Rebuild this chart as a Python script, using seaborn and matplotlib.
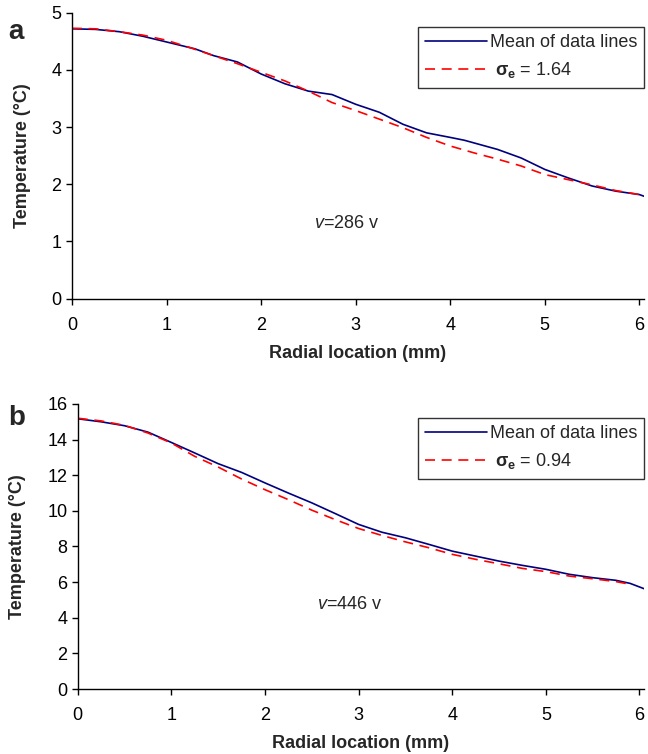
import numpy as np
import pandas as pd
import matplotlib
matplotlib.use('Agg')
import matplotlib.pyplot as plt
import seaborn as sns

# ── Data ───────────────────────────────────────────────────────────────────
# panel a (v = 286 v)
a_x_mean = [0, 0.25, 0.5, 0.75, 1.0, 1.3, 1.5, 1.75, 2.0, 2.25, 2.5, 2.75, 3.0,
            3.25, 3.5, 3.75, 4.0, 4.15, 4.5, 4.75, 5.0, 5.25, 5.5, 5.75, 6.0, 6.05]
a_y_mean = [4.72, 4.71, 4.67, 4.59, 4.49, 4.37, 4.25, 4.14, 3.93, 3.76, 3.63, 3.57, 3.40,
            3.26, 3.05, 2.90, 2.82, 2.77, 2.61, 2.46, 2.26, 2.11, 1.97, 1.88, 1.82, 1.79]
a_x_fit = [0, 0.25, 0.5, 0.75, 1.0, 1.25, 1.5, 1.75, 2.0, 2.25, 2.5, 2.75, 3.0,
           3.25, 3.5, 3.75, 4.0, 4.25, 4.5, 4.75, 5.0, 5.25, 5.5, 5.75, 6.0]
a_y_fit = [4.73, 4.72, 4.67, 4.61, 4.52, 4.39, 4.25, 4.11, 3.96, 3.81, 3.63, 3.43, 3.29,
           3.14, 2.99, 2.82, 2.67, 2.55, 2.44, 2.32, 2.17, 2.08, 1.99, 1.89, 1.82]

# panel b (v = 446 v)
b_x_mean = [0, 0.25, 0.5, 0.75, 1.0, 1.25, 1.5, 1.75, 2.0, 2.25, 2.5, 2.75, 3.0,
            3.25, 3.5, 3.75, 4.0, 4.25, 4.5, 4.75, 5.0, 5.25, 5.5, 5.75, 5.9, 6.05]
b_y_mean = [15.17, 15.0, 14.78, 14.42, 13.84, 13.25, 12.65, 12.16, 11.57, 11.0, 10.45, 9.85, 9.24,
            8.8, 8.49, 8.12, 7.74, 7.46, 7.18, 6.94, 6.72, 6.44, 6.25, 6.1, 5.93, 5.63]
b_x_fit = [0, 0.25, 0.5, 0.75, 1.0, 1.25, 1.5, 1.75, 2.0, 2.25, 2.5, 2.75, 3.0,
           3.25, 3.5, 3.75, 4.0, 4.25, 4.5, 4.75, 5.0, 5.25, 5.5, 5.75, 5.9]
b_y_fit = [15.2, 15.05, 14.8, 14.37, 13.81, 13.06, 12.46, 11.79, 11.19, 10.63, 10.04, 9.51, 9.01,
           8.62, 8.26, 7.93, 7.56, 7.28, 7.03, 6.77, 6.59, 6.34, 6.19, 6.03, 5.88]

panels = [
    dict(tag='a', xm=a_x_mean, ym=a_y_mean, xf=a_x_fit, yf=a_y_fit,
         sigma='1.64', speed='286', ylim=(0, 5), yticks=range(0, 6, 1),
         text_y=1.32, rect=[0.111, 0.604, 0.883, 0.379], tag_y=0.958),
    dict(tag='b', xm=b_x_mean, ym=b_y_mean, xf=b_x_fit, yf=b_y_fit,
         sigma='0.94', speed='446', ylim=(0, 16), yticks=range(0, 17, 2),
         text_y=4.76, rect=[0.120, 0.0862, 0.874, 0.378], tag_y=0.445),
]

# ── Style ──────────────────────────────────────────────────────────────────
sns.set_theme(style='ticks')
plt.rcParams['font.family'] = ['Liberation Sans', 'DejaVu Sans']
plt.rcParams['mathtext.fontset'] = 'custom'
plt.rcParams['mathtext.rm'] = 'Liberation Sans'
plt.rcParams['mathtext.it'] = 'Liberation Sans:italic'
plt.rcParams['mathtext.bf'] = 'Liberation Sans:bold'

FS = 13

fig = plt.figure(figsize=(6.48, 7.54), dpi=100)

for p in panels:
    ax = fig.add_axes(p['rect'])

    sns.lineplot(x=p['xm'], y=p['ym'], ax=ax, color='#000080', lw=1.2,
                 label='Mean of data lines')
    sns.lineplot(x=p['xf'], y=p['yf'], ax=ax, color='#FF0000', lw=1.2,
                 label=r' $\mathbf{σ_e}$ = ' + p['sigma'])
    ax.lines[1].set_dashes((6, 4))

    ax.set_xlim(0, 6.05)
    ax.set_ylim(*p['ylim'])
    ax.set_xticks(range(0, 7))
    ax.set_yticks(list(p['yticks']))
    ax.tick_params(labelsize=FS, length=4, width=1, color='black',
                   labelcolor='black', direction='out')
    ax.tick_params(axis='x', pad=9)
    for s in ['left', 'bottom']:
        ax.spines[s].set_color('black')
        ax.spines[s].set_linewidth(1)
    sns.despine(ax=ax)

    ax.set_xlabel('Radial location (mm)', fontsize=FS, fontweight='bold',
                  labelpad=8)
    ax.set_ylabel('Temperature (°C)', fontsize=FS, fontweight='bold',
                  labelpad=15)

    ax.text(2.56, p['text_y'], r'$\it{v}$=' + p['speed'] + ' v',
            fontsize=FS, va='center', ha='left')

    leg = ax.legend(loc='upper right', bbox_to_anchor=(1.0, 0.95),
                    fontsize=FS, handlelength=3.4, handletextpad=0.15,
                    frameon=True, fancybox=False, borderpad=0.4,
                    labelspacing=0.5, borderaxespad=0)
    leg.get_frame().set_edgecolor('black')
    leg.get_frame().set_linewidth(1)

    fig.text(0.012, p['tag_y'], p['tag'],
             fontsize=20, fontweight='bold', va='center')

fig.savefig('out.png', dpi=100)
plt.close(fig)
